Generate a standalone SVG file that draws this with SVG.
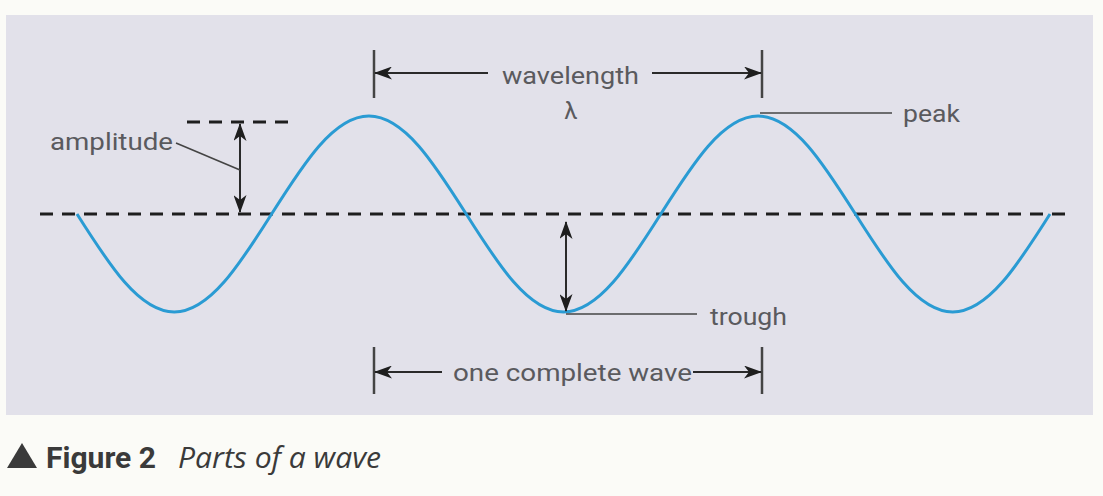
<svg xmlns="http://www.w3.org/2000/svg" width="1103" height="496" viewBox="0 0 1103 496">
<defs>
<marker id="ah" viewBox="0 0 18 13" refX="17" refY="6.5" markerWidth="18" markerHeight="13" markerUnits="userSpaceOnUse" orient="auto-start-reverse">
<path d="M0,0 L18,6.5 L0,13 L5,6.5 Z" fill="#1e1e1e"/>
</marker>
</defs>
<style>
.lbl{font-family:Roboto,"Liberation Sans",sans-serif;font-size:24px;fill:#5a5a5e}
.dim{stroke:#2a2a2a;stroke-width:2;fill:none}
.tick{stroke:#444;stroke-width:2.5}
.dash{stroke:#1e1e1e;stroke-width:3;stroke-dasharray:13 9;fill:none}
.lead{stroke:#444;stroke-width:1.6;fill:none}
</style>
<rect width="1103" height="496" fill="#fbfbf7"/>
<rect x="6" y="15" width="1087" height="400" fill="#e2e1ea"/>
<g id="axis">
<line class="dash" x1="40" y1="214" x2="1072" y2="214"/>
<line class="dash" x1="187" y1="122" x2="290" y2="122"/>
</g>
<g id="wave">
<path d="M77,214 c31.73,50.2 62.08,98 97.3,98 c35.22,0 65.57,-47.8 97.3,-98 c31.73,-50.2 62.08,-98 97.3,-98 c35.22,0 65.57,47.8 97.3,98 c31.73,50.2 62.08,98 97.3,98 c35.22,0 65.57,-47.8 97.3,-98 c31.73,-50.2 62.08,-98 97.3,-98 c35.22,0 65.57,47.8 97.3,98 c31.73,50.2 62.08,98 97.3,98 c35.22,0 65.57,-47.8 97.3,-98" fill="none" stroke="#2a9bd3" stroke-width="3"/>
</g>
<g id="connectors">
<line class="dim" x1="240" y1="124" x2="240" y2="212" marker-start="url(#ah)" marker-end="url(#ah)"/>
<line class="dim" x1="566" y1="222" x2="566" y2="311" marker-start="url(#ah)" marker-end="url(#ah)"/>
<line class="lead" x1="176" y1="143" x2="240" y2="170"/>
<line class="lead" x1="760" y1="113" x2="892" y2="113"/>
<line class="lead" x1="566" y1="314" x2="697" y2="314"/>
<line class="tick" x1="374" y1="50" x2="374" y2="98"/>
<line class="tick" x1="762" y1="50" x2="762" y2="98"/>
<line class="dim" x1="375" y1="73" x2="488" y2="73" marker-start="url(#ah)"/>
<line class="dim" x1="652" y1="73" x2="761" y2="73" marker-end="url(#ah)"/>
<line class="tick" x1="374" y1="347" x2="374" y2="394"/>
<line class="tick" x1="762" y1="347" x2="762" y2="394"/>
<line class="dim" x1="375" y1="372" x2="442" y2="372" marker-start="url(#ah)"/>
<line class="dim" x1="693" y1="372" x2="761" y2="372" marker-end="url(#ah)"/>
</g>
<g id="amplitude"><text class="lbl" x="50" y="150" textLength="123" lengthAdjust="spacingAndGlyphs">amplitude</text></g>
<g id="wavelength"><text class="lbl" x="502" y="84" textLength="137" lengthAdjust="spacingAndGlyphs">wavelength</text>
<text class="lbl" x="571" y="119" text-anchor="middle" font-family="DejaVu Sans" font-size="22">λ</text></g>
<g id="peak"><text class="lbl" x="903" y="122" textLength="57" lengthAdjust="spacingAndGlyphs">peak</text></g>
<g id="trough"><text class="lbl" x="710" y="325" textLength="77" lengthAdjust="spacingAndGlyphs">trough</text></g>
<g id="onewave"><text class="lbl" x="453" y="381" textLength="239" lengthAdjust="spacingAndGlyphs">one complete wave</text></g>
<g id="caption">
<path d="M7,468 L22,443 L37,468 Z" fill="#3a3a3a"/>
<text x="46" y="468" font-family="Roboto,'Liberation Sans',sans-serif" font-size="29" font-weight="bold" fill="#3a3a3a" textLength="110" lengthAdjust="spacingAndGlyphs">Figure 2</text>
<text x="178" y="468" font-family="'Open Sans','Liberation Sans',sans-serif" font-size="29" font-style="italic" fill="#3a3a3a" textLength="203" lengthAdjust="spacingAndGlyphs">Parts of a wave</text>
</g>
</svg>
